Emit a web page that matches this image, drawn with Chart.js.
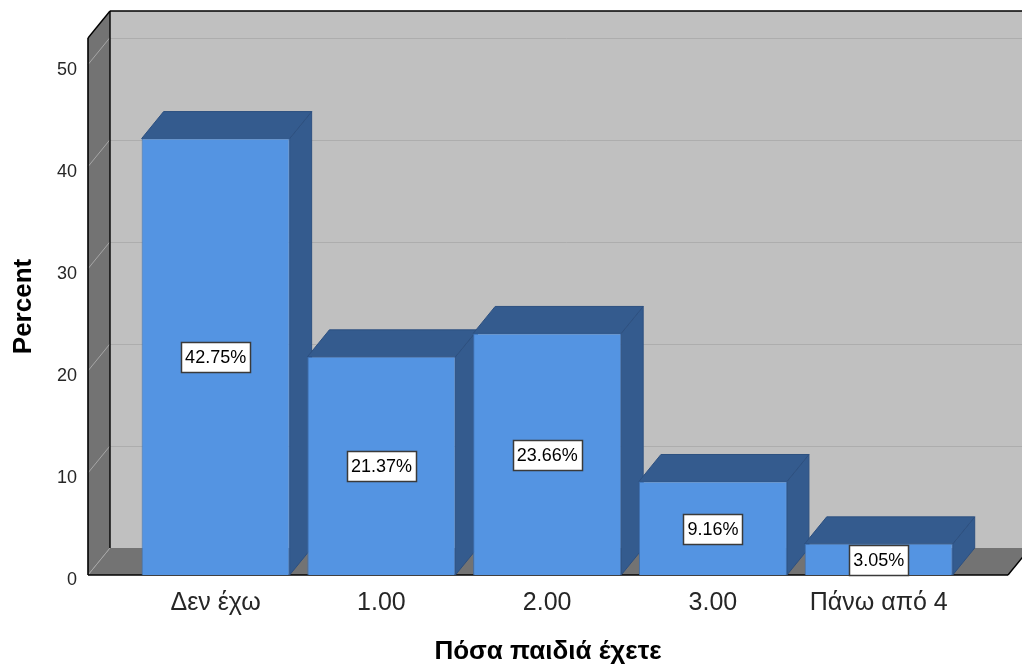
<!DOCTYPE html>
<html>
<head>
<meta charset="utf-8">
<script src="https://cdn.jsdelivr.net/npm/chart.js@4"></script>
<style>
  html, body { margin: 0; padding: 0; background: #ffffff; }
  canvas { display: block; }
</style>
</head>
<body>
<canvas id="chart" width="1022" height="666"></canvas>
<script>
// Data
const categories = ['Δεν έχω', '1.00', '2.00', '3.00', 'Πάνω από 4'];
const percents = [42.75, 21.37, 23.66, 9.16, 3.05];
const positions = [1, 2, 3, 4, 5];
const yTickValues = [0, 10, 20, 30, 40, 50];
const yTitle = 'Percent';
const xTitle = 'Πόσα παιδιά έχετε';

// Look
const FONT = "'Liberation Sans', Arial, Helvetica, sans-serif";
const DEPTH_X = 22;
const DEPTH_Y = -27;
const WALL_BACK = '#c0c0c0';
const WALL_SIDE = '#737373';
const BAR_FRONT = '#5494e2';
const BAR_SHADE = '#345b8e';

function poly(ctx, pts, fill, stroke, lw) {
  ctx.beginPath();
  ctx.moveTo(pts[0][0], pts[0][1]);
  for (let i = 1; i < pts.length; i++) ctx.lineTo(pts[i][0], pts[i][1]);
  ctx.closePath();
  if (fill) { ctx.fillStyle = fill; ctx.fill(); }
  if (stroke) { ctx.strokeStyle = stroke; ctx.lineWidth = lw || 1; ctx.stroke(); }
}

function line(ctx, x1, y1, x2, y2, color, lw) {
  ctx.beginPath();
  ctx.moveTo(x1, y1);
  ctx.lineTo(x2, y2);
  ctx.strokeStyle = color;
  ctx.lineWidth = lw;
  ctx.stroke();
}

// Walls, floor and the depth faces of the bars
const depthBox = {
  id: 'depthBox',
  beforeDatasetsDraw(chart) {
    const { ctx, chartArea: a, scales: { y } } = chart;
    const L = a.left, R = a.right, T = a.top, B = a.bottom;
    const dx = DEPTH_X, dy = DEPTH_Y;
    ctx.save();

    // back wall
    poly(ctx, [[L + dx, T + dy], [R + dx, T + dy], [R + dx, B + dy], [L + dx, B + dy]], WALL_BACK);
    yTickValues.forEach(v => {
      const py = Math.round(y.getPixelForValue(v)) + 0.5;
      line(ctx, L + dx, py + dy, R + dx, py + dy, '#adadad', 1);
    });

    // left wall
    poly(ctx, [[L, T], [L + dx, T + dy], [L + dx, B + dy], [L, B]], WALL_SIDE);
    // floor
    poly(ctx, [[L, B], [L + dx, B + dy], [R + dx, B + dy], [R, B]], WALL_SIDE);

    // gridlines across the left wall
    yTickValues.forEach(v => {
      const py = y.getPixelForValue(v);
      line(ctx, L, py, L + dx, py + dy, '#a6a6a6', 1);
    });

    // frame edges
    const k = '#000000';
    line(ctx, L, T, L, B, k, 1.6);
    line(ctx, L + dx, T + dy, L + dx, B + dy, k, 1.4);
    line(ctx, L, T, L + dx, T + dy, k, 1.4);
    line(ctx, L + dx, T + dy, R + dx, T + dy, k, 1.4);
    line(ctx, L, B, R, B, k, 1.6);
    line(ctx, R, B, R + dx, B + dy, k, 1.4);

    // side and top faces of each bar
    chart.getDatasetMeta(0).data.forEach(el => {
      const { x, y: top, base, width } = el.getProps(['x', 'y', 'base', 'width'], true);
      const l = x - width / 2, r = x + width / 2;
      poly(ctx, [[r, top], [r + dx, top + dy], [r + dx, base + dy], [r, base]], BAR_SHADE, '#2d5080', 1);
      poly(ctx, [[l, top], [l + dx, top + dy], [r + dx, top + dy], [r, top]], BAR_SHADE, '#2d5080', 1);
    });

    ctx.restore();
  },
  afterDatasetsDraw(chart) {
    const { ctx } = chart;
    ctx.save();
    ctx.font = '18px ' + FONT;
    ctx.textAlign = 'center';
    ctx.textBaseline = 'middle';
    chart.getDatasetMeta(0).data.forEach((el, i) => {
      const { x, y: top, base } = el.getProps(['x', 'y', 'base'], true);
      const text = percents[i].toFixed(2) + '%';
      const w = ctx.measureText(text).width + 8;
      const h = 30;
      const cy = (top + base) / 2 + 0.5;
      const bx = Math.round(x - w / 2) + 0.5;
      const by = Math.round(cy - h / 2) + 0.5;
      ctx.fillStyle = '#ffffff';
      ctx.fillRect(bx, by, Math.round(w), h);
      ctx.strokeStyle = '#3a3a3a';
      ctx.lineWidth = 1.5;
      ctx.strokeRect(bx, by, Math.round(w), h);
      ctx.fillStyle = '#000000';
      ctx.fillText(text, x, cy + 1);
    });
    ctx.restore();
  }
};

new Chart(document.getElementById('chart'), {
  type: 'bar',
  data: {
    datasets: [{
      data: positions.map((p, i) => ({ x: p, y: percents[i] })),
      backgroundColor: BAR_FRONT,
      borderColor: '#3f70b0',
      borderWidth: 1,
      barPercentage: 0.893,
      categoryPercentage: 1
    }]
  },
  options: {
    responsive: false,
    animation: false,
    events: [],
    layout: { padding: { top: 38, right: 14, left: 0, bottom: 0 } },
    plugins: {
      legend: { display: false },
      tooltip: { enabled: false }
    },
    scales: {
      x: {
        type: 'linear',
        offset: false,
        min: 0.23,
        max: 5.78,
        afterBuildTicks: s => { s.ticks = positions.map(v => ({ value: v })); },
        afterFit: s => { s.height = 91; },
        grid: { display: false, drawTicks: false, offset: false },
        border: { display: false },
        ticks: {
          autoSkip: false,
          maxRotation: 0,
          padding: 13,
          font: { family: FONT, size: 25 },
          color: '#262626',
          callback: v => categories[positions.indexOf(v)]
        },
        title: {
          display: true,
          text: xTitle,
          font: { family: FONT, size: 26, weight: 'bold' },
          color: '#000000',
          padding: { top: 0, bottom: -1 }
        }
      },
      y: {
        min: 0,
        max: 52.6,
        afterBuildTicks: s => { s.ticks = yTickValues.map(v => ({ value: v })); },
        afterFit: s => { s.width = 88; },
        grid: { display: false, drawTicks: false },
        border: { display: false },
        ticks: {
          padding: 11,
          labelOffset: 5,
          font: { family: FONT, size: 18 },
          color: '#262626'
        },
        title: {
          display: true,
          text: yTitle,
          font: { family: FONT, size: 26, weight: 'bold' },
          color: '#000000',
          padding: { top: 8, bottom: 0 }
        }
      }
    }
  },
  plugins: [depthBox]
});
</script>
</body>
</html>
